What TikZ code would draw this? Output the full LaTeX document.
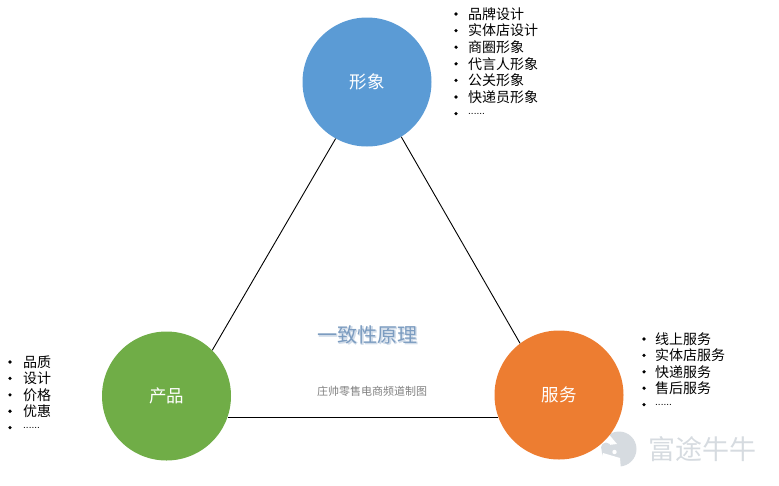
\documentclass[tikz,border=0pt]{standalone}
\usepackage{fontspec}
\setmainfont{Noto Sans CJK SC}
\definecolor{cblue}{HTML}{5B9BD5}
\definecolor{cgreen}{HTML}{70AD47}
\definecolor{corange}{HTML}{ED7D31}
\definecolor{wm}{HTML}{D6DBE0}
\definecolor{ttl}{HTML}{7C9CC0}
\newcommand{\sixdots}{{\fontspec{Liberation Sans}\fontsize{10}{12}\selectfont ......}}
\begin{document}
\begin{tikzpicture}[x=1pt,y=-1pt,
  disc/.style={circle,minimum size=129pt,inner sep=0pt,text=white,font=\fontsize{17.5}{19}\selectfont},
  li/.style={anchor=west,inner sep=0pt,font=\fontsize{14}{16}\selectfont,text=black},
  bul/.style={circle,fill=black,minimum size=3.6pt,inner sep=0pt},
  link/.style={draw=black,line width=0.9pt}]
\useasboundingbox (0,0) rectangle (779,485);
% watermark
\fill[wm] (619,449) circle (17.5);
\fill[white] (606,431) -- (617,444) -- (600,446) -- (596,431) -- cycle;
\fill[white] (603,453) -- (620,458) -- (621,470) -- (600,470) -- cycle;
\fill[white] (614.5,452) circle (2.2);
\fill[wm] (606,447.5) circle (5);
\node[inner sep=0pt,text=wm,font=\fontsize{27}{29}\selectfont] (wmark) at (702.5,449) {富途牛牛};
% discs
\node[disc,fill=cblue] (img) at (367,82) {形象};
\node[disc,fill=cgreen] (prod) at (166.5,396) {产品};
\node[disc,fill=corange] (serv) at (559,395) {服务};
% connectors
\draw[link] (img.241) -- (prod.45);
\draw[link] (img.302) -- (serv.127);
\draw[link] (prod.341) -- (prod.341 -| serv.200);
% centre text
\node[inner sep=0pt,text=ttl!35,font=\fontsize{20}{22}\selectfont\bfseries] (titleshadow) at (368.5,335.5) {一致性原理};
\node[inner sep=0pt,text=ttl,font=\fontsize{20}{22}\selectfont] (title) at (367.5,334.5) {一致性原理};
\node[inner sep=0pt,text=black!50,font=\fontsize{11}{12}\selectfont] (sub) at (372,391) {庄帅零售电商频道制图};
% lists
\foreach \t [count=\i] in {品牌设计,实体店设计,商圈形象,代言人形象,公关形象,快递员形象,\sixdots}{
  \pgfmathsetmacro{\yy}{14+(\i-1)*16.6}
  \node[bul] (ab\i) at (456,\yy) {};
  \node[li] (at\i) at (468,\yy) {\t};
}
\foreach \t [count=\i] in {线上服务,实体店服务,快递服务,售后服务,\sixdots}{
  \pgfmathsetmacro{\yy}{339+(\i-1)*16.4}
  \node[bul] (cb\i) at (644,\yy) {};
  \node[li] (ct\i) at (655,\yy) {\t};
}
\foreach \t [count=\i] in {品质,设计,价格,优惠,\sixdots}{
  \pgfmathsetmacro{\yy}{362+(\i-1)*16.4}
  \node[bul] (bb\i) at (10,\yy) {};
  \node[li] (bt\i) at (23,\yy) {\t};
}
\end{tikzpicture}
\end{document}
